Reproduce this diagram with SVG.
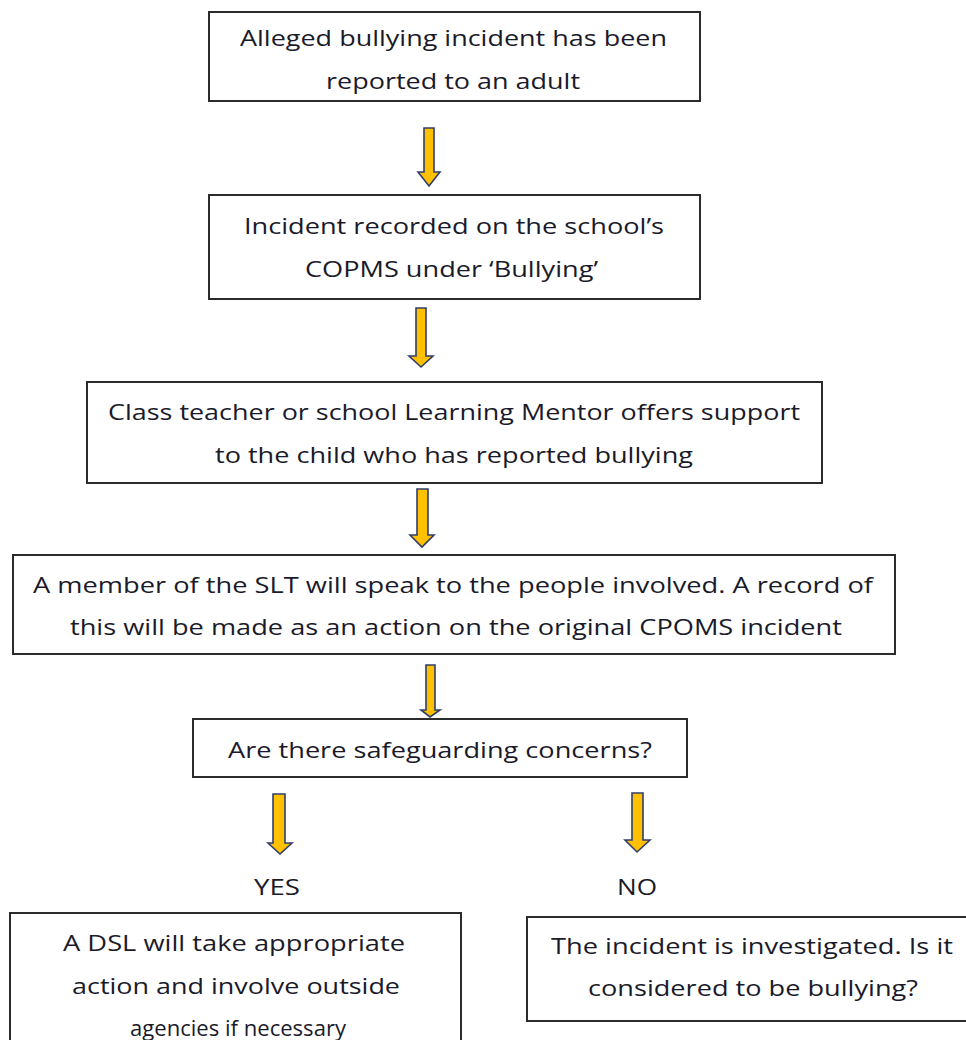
<svg xmlns="http://www.w3.org/2000/svg" width="966" height="1040" viewBox="0 0 966 1040">
<style>
.box{fill:#fff;stroke:#2b2b2b;stroke-width:2}
.t{font-family:"Open Sans","Liberation Sans",sans-serif;font-size:21px;fill:#1a1a2a}
.arr{fill:#FFC000;stroke:#2F3E6B;stroke-width:1.6;stroke-linejoin:miter}
</style>
<rect width="966" height="1040" fill="#fff"/>
<g id="connectors">
<path class="arr" d="M424,128 H434 V172 H440 L429,186 L418,172 H424 Z"/>
<path class="arr" d="M416,308 H426 V356 H433 L421,367 L409,356 H416 Z"/>
<path class="arr" d="M417,489 H428 V535 H434 L422,547 L410,535 H417 Z"/>
<path class="arr" d="M426,665 H435 V710 H440 L430,717 L421,710 H426 Z"/>
<path class="arr" d="M273,794 H285 V843 H292 L280,854 L268,843 H273 Z"/>
<path class="arr" d="M632,793 H643 V840 H650 L637,852 L625,840 H632 Z"/>
</g>
<g id="n1">
<rect class="box" x="209" y="12" width="491" height="89"/>
<text class="t" x="240" y="46" textLength="427" lengthAdjust="spacingAndGlyphs">Alleged bullying incident has been</text>
<text class="t" x="326" y="89" textLength="254" lengthAdjust="spacingAndGlyphs">reported to an adult</text>
</g>
<g id="n2">
<rect class="box" x="209" y="195" width="491" height="104"/>
<text class="t" x="244" y="234" textLength="420" lengthAdjust="spacingAndGlyphs">Incident recorded on the school’s</text>
<text class="t" x="305" y="277" textLength="293" lengthAdjust="spacingAndGlyphs">COPMS under ‘Bullying’</text>
</g>
<g id="n3">
<rect class="box" x="87" y="382" width="735" height="101"/>
<text class="t" x="108" y="420" textLength="692" lengthAdjust="spacingAndGlyphs">Class teacher or school Learning Mentor offers support</text>
<text class="t" x="215" y="463" textLength="478" lengthAdjust="spacingAndGlyphs">to the child who has reported bullying</text>
</g>
<g id="n4">
<rect class="box" x="13" y="555" width="882" height="99"/>
<text class="t" x="33" y="593" textLength="840" lengthAdjust="spacingAndGlyphs">A member of the SLT will speak to the people involved. A record of</text>
<text class="t" x="70" y="635" textLength="772" lengthAdjust="spacingAndGlyphs">this will be made as an action on the original CPOMS incident</text>
</g>
<g id="n5">
<rect class="box" x="193" y="719" width="494" height="58"/>
<text class="t" x="228" y="758" textLength="424" lengthAdjust="spacingAndGlyphs">Are there safeguarding concerns?</text>
</g>
<g id="lbl-yes">
<text class="t" x="254" y="895" textLength="46" lengthAdjust="spacingAndGlyphs">YES</text>
</g>
<g id="lbl-no">
<text class="t" x="617" y="895" textLength="40" lengthAdjust="spacingAndGlyphs">NO</text>
</g>
<g id="n6">
<rect class="box" x="10" y="913" width="451" height="140"/>
<text class="t" x="63" y="951" textLength="342" lengthAdjust="spacingAndGlyphs">A DSL will take appropriate</text>
<text class="t" x="72" y="994" textLength="328" lengthAdjust="spacingAndGlyphs">action and involve outside</text>
<text class="t" x="130" y="1036" textLength="216" lengthAdjust="spacingAndGlyphs">agencies if necessary</text>
</g>
<g id="n7">
<rect class="box" x="527" y="917" width="460" height="104"/>
<text class="t" x="551" y="954" textLength="402" lengthAdjust="spacingAndGlyphs">The incident is investigated. Is it</text>
<text class="t" x="588" y="996" textLength="330" lengthAdjust="spacingAndGlyphs">considered to be bullying?</text>
</g>
</svg>
